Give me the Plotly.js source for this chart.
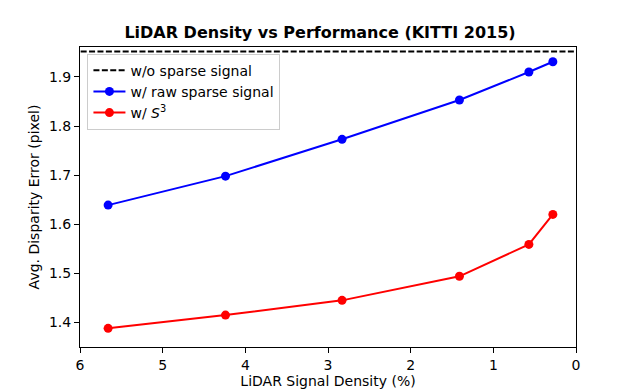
<!DOCTYPE html>
<html>
<head>
<meta charset="utf-8">
<script src="https://cdn.plot.ly/plotly-3.0.1.min.js"></script>
<style>
  html, body { margin: 0; padding: 0; background: #fff; }
  #plotArea { width: 640px; height: 390px; }
</style>
</head>
<body>
<div id="plotArea"></div>
<script>
// LiDAR density (%) and the disparity error for each setup
var density = [5.66, 4.24, 2.83, 1.41, 0.57, 0.28];
var rawSparse = [1.639, 1.698, 1.773, 1.853, 1.910, 1.931];
var withS3 = [1.388, 1.415, 1.445, 1.494, 1.559, 1.620];
var noSparse = 1.952;
var noSparseX = [6.5, -0.5];

var trace1 = {
    x: noSparseX,
    y: noSparseX.map(function () { return noSparse; }),
    mode: "lines",
    type: "scatter",
    name: "w/o sparse signal",
    line: {color: "black", width: 2, dash: "6px,2.4px"}
};

var trace2 = {
    x: density,
    y: rawSparse,
    mode: "lines+markers",
    type: "scatter",
    name: "w/ raw sparse signal",
    line: {color: "blue", width: 2},
    marker: {color: "blue", size: 9}
};

var trace3 = {
    x: density,
    y: withS3,
    mode: "lines+markers",
    type: "scatter",
    name: "w/ <i>S</i><sup>3</sup>",
    line: {color: "red", width: 2},
    marker: {color: "red", size: 9}
};

var axisStyle = {
    showgrid: false,
    zeroline: false,
    showline: true,
    linecolor: "black",
    linewidth: 1,
    mirror: true,
    ticks: "outside",
    ticklen: 5,
    tickcolor: "black",
    tickfont: {size: 14, color: "black"}
};

var layout = {
    width: 640,
    height: 390,
    margin: {l: 80, r: 64, t: 47, b: 43},
    font: {family: "DejaVu Sans", color: "black"},
    paper_bgcolor: "white",
    plot_bgcolor: "white",
    title: {
        text: "<b>LiDAR Density vs Performance (KITTI 2015)</b>",
        font: {size: 16},
        x: 0.5,
        xanchor: "center",
        y: 0.918,
        yanchor: "middle"
    },
    xaxis: Object.assign({}, axisStyle, {
        range: [6, 0],
        dtick: 1,
        title: {text: "LiDAR Signal Density (%)", font: {size: 14}, standoff: 4}
    }),
    yaxis: Object.assign({}, axisStyle, {
        range: [1.35, 1.961],
        dtick: 0.1,
        tickformat: ".1f",
        title: {text: "Avg. Disparity Error (pixel)", font: {size: 14}, standoff: 6}
    }),
    showlegend: true,
    legend: {
        x: 0.015,
        y: 0.978,
        xanchor: "left",
        yanchor: "top",
        bgcolor: "rgba(255,255,255,0.8)",
        bordercolor: "#cccccc",
        borderwidth: 1,
        font: {size: 14},
        itemwidth: 32
    }
};

Plotly.newPlot("plotArea", [trace1, trace2, trace3], layout, {displayModeBar: false});
</script>
</body>
</html>
